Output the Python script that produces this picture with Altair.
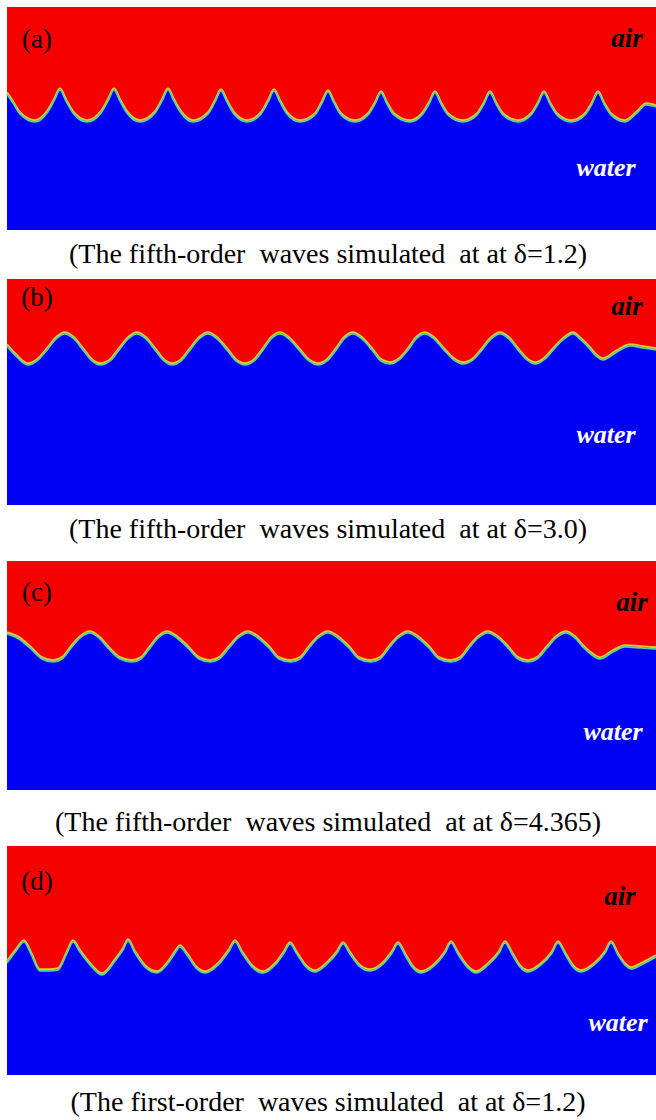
import altair as alt
import pandas as pd

# ---------------- data ----------------
domain_length = 649
panel_labels = ["(a)", "(b)", "(c)", "(d)"]
captions = [
    "(The fifth-order \u00a0waves simulated \u00a0at at \u03b4=1.2)",
    "(The fifth-order \u00a0waves simulated \u00a0at at \u03b4=3.0)",
    "(The fifth-order \u00a0waves simulated \u00a0at at \u03b4=4.365)",
    "(The first-order \u00a0waves simulated \u00a0at at \u03b4=1.2)",
]
panel_depth = [223, 226, 229, 229]

# interface: x position and depth below the top of the panel
a_x = [0, 6, 13, 28, 40, 47, 53, 59, 66, 80, 94, 101, 107, 113, 120, 133, 148, 155, 161,
       167, 174, 186, 201, 208, 214, 220, 227, 240, 254, 261, 267, 273, 280, 293, 308, 315, 321,
       327, 334, 348, 361, 368, 374, 380, 387, 403, 415, 422, 428, 434, 441, 456, 470, 477, 483,
       489, 496, 511, 524, 531, 537, 543, 550, 564, 578, 585, 591, 597, 604, 618, 630, 639, 649]
a_y = [86, 95, 106, 114, 105, 93, 82, 93, 105, 114, 105, 93, 82, 93, 105, 114, 105, 93, 82,
       93, 105, 114, 106, 94, 83, 94, 106, 114, 106, 94, 83, 94, 106, 114, 107, 95, 84,
       95, 107, 114, 107, 96, 85, 96, 107, 114, 107, 96, 85, 96, 107, 114, 107, 96, 85,
       96, 107, 114, 107, 96, 85, 96, 107, 114, 107, 96, 85, 96, 107, 114, 105, 97, 99]

b_x = [0, 5, 10, 15, 21, 30, 40, 49, 58, 67, 76, 85, 93, 103, 112, 121, 130, 139, 148, 157,
       165, 174, 183, 192, 201, 210, 220, 229, 238, 247, 256, 264, 273, 282, 292, 302, 311, 320,
       329, 337, 346, 355, 365, 374, 383, 392, 401, 409, 418, 427, 437, 447, 456, 466, 475, 484,
       493, 502, 511, 520, 528, 538, 547, 557, 566, 574, 582, 589, 596, 610, 623, 636, 649]
b_y = [66, 72, 77, 82, 85, 81, 70, 59, 54, 59, 70, 81, 85, 81, 70, 59, 54, 59, 70, 81,
       85, 81, 70, 59, 54, 59, 70, 81, 85, 81, 70, 59, 54, 59, 70, 81, 85, 81,
       70, 59, 54, 59, 70, 81, 84, 80, 70, 59, 54, 59, 70, 80, 84, 80, 70, 59,
       54, 59, 70, 80, 84, 79, 69, 59, 54, 60, 68, 76, 80, 72, 66, 68, 70]

c_x = [0, 12, 23, 35, 46, 55, 64, 73, 83, 92, 101, 113, 125, 134, 143, 151, 160, 170, 181,
       192, 203, 212, 222, 231, 241, 251, 262, 272, 283, 293, 302, 311, 321, 331, 342, 352, 363,
       373, 382, 391, 401, 411, 422, 432, 443, 453, 462, 471, 481, 491, 501, 511, 521, 530, 540,
       549, 559, 568, 576, 585, 593, 606, 618, 634, 649]
c_y = [72, 77, 86, 97, 100, 97, 86, 76, 71, 76, 86, 97, 100, 97, 86, 76, 71, 76, 86,
       97, 100, 97, 86, 76, 71, 76, 86, 97, 100, 97, 86, 76, 71, 76, 86, 97, 100,
       97, 86, 76, 71, 76, 86, 97, 100, 97, 86, 76, 71, 76, 86, 97, 100, 97, 86,
       76, 71, 76, 85, 93, 97, 90, 85, 86, 87]

d_x = [0, 9, 17, 24, 33, 42, 51, 60, 66, 73, 84, 95, 108, 116, 121, 128, 138, 150, 162, 168,
       173, 180, 189, 198, 212, 222, 228, 235, 245, 256, 268, 277, 283, 290, 299, 308, 320, 330,
       336, 343, 352, 363, 375, 385, 391, 398, 406, 414, 427, 438, 444, 451, 460, 469, 481, 492,
       498, 505, 513, 521, 534, 545, 551, 558, 566, 574, 587, 598, 604, 611, 618, 624, 636, 649]
d_y = [116, 104, 95, 107, 124, 124, 123, 106, 95, 105, 119, 128, 114, 103, 94, 106, 120, 126,
       115, 106, 100, 108, 121, 126, 117, 104, 95, 106, 120, 126, 118, 106, 97, 107, 120, 125,
       117, 106, 97, 107, 119, 124, 118, 106, 97, 108, 121, 126, 119, 106, 96, 107, 120, 126,
       118, 106, 96, 107, 120, 125, 118, 106, 96, 107, 120, 125, 118, 106, 96, 108, 118, 122,
       117, 110]

interfaces = [(a_x, a_y), (b_x, b_y), (c_x, c_y), (d_x, d_y)]

# ---------------- layout / style ----------------
W, HT = 656, 1120
margin_left = 7
panel_top = [7, 279, 561, 846]
RED = "#f70000"
BLUE = "#0000f5"
SERIF = "Liberation Serif"
label_pos = [(37, 40), (37, 298), (37, 593), (37, 882)]
air_pos = [(627, 39), (627, 307), (632, 603), (620, 897)]
water_pos = [(606, 168), (606, 435), (613, 732), (618, 1023)]
caption_pos = [(328, 255), (328, 530), (328, 823), (328, 1103)]

xsc = alt.Scale(domain=[0, W], nice=False, zero=False)
ysc = alt.Scale(domain=[0, HT], reverse=True, nice=False, zero=False)

# build tables from the arrays
rows = []
boxes = []
for i, (xs, ys) in enumerate(interfaces):
    top = panel_top[i]
    for xv, yv in zip(xs, ys):
        rows.append({"panel": panel_labels[i], "x": margin_left + xv, "y": top + yv,
                     "bottom": top + panel_depth[i]})
    boxes.append({"panel": panel_labels[i], "x0": margin_left, "x1": margin_left + domain_length,
                  "y0": top, "y1": top + panel_depth[i]})
surf = pd.DataFrame(rows)
box = pd.DataFrame(boxes)

X = alt.X("x:Q", scale=xsc, axis=None)
Y = alt.Y("y:Q", scale=ysc, axis=None)

air = alt.Chart(box).mark_rect(color=RED).encode(
    x=alt.X("x0:Q", scale=xsc, axis=None), x2="x1:Q",
    y=alt.Y("y0:Q", scale=ysc, axis=None), y2="y1:Q", detail="panel:N")
water = alt.Chart(surf).mark_area(color=BLUE, interpolate="monotone").encode(
    x=X, y=Y, y2="bottom:Q", detail="panel:N")
band1 = alt.Chart(surf).mark_line(color="#f2c81e", strokeWidth=2, interpolate="monotone",
                                  yOffset=-0.8).encode(x=X, y=Y, detail="panel:N")
band2 = alt.Chart(surf).mark_line(color="#52d6a0", strokeWidth=1.8, interpolate="monotone",
                                  yOffset=0.9).encode(x=X, y=Y, detail="panel:N")


def text_layer(texts, positions, size, color, style="normal", weight="normal"):
    df = pd.DataFrame({"t": texts, "x": [p[0] for p in positions], "y": [p[1] for p in positions]})
    return alt.Chart(df).mark_text(
        font=SERIF, fontSize=size, color=color, fontStyle=style, fontWeight=weight,
        align="center", baseline="middle"
    ).encode(text="t:N", x=X, y=Y)


chart = alt.layer(
    air, water, band1, band2,
    text_layer(panel_labels, label_pos, 27, "black"),
    text_layer(["air"] * 4, air_pos, 27, "black", "italic", "bold"),
    text_layer(["water"] * 4, water_pos, 26, "white", "italic", "bold"),
    text_layer(captions, caption_pos, 28, "black"),
).properties(
    width=W, height=HT,
    autosize=alt.AutoSizeParams(type="none"),
    padding=0,
    background="white",
).configure_view(strokeWidth=0)

chart.save("out.html", embed_options={"renderer": "svg", "actions": False})
